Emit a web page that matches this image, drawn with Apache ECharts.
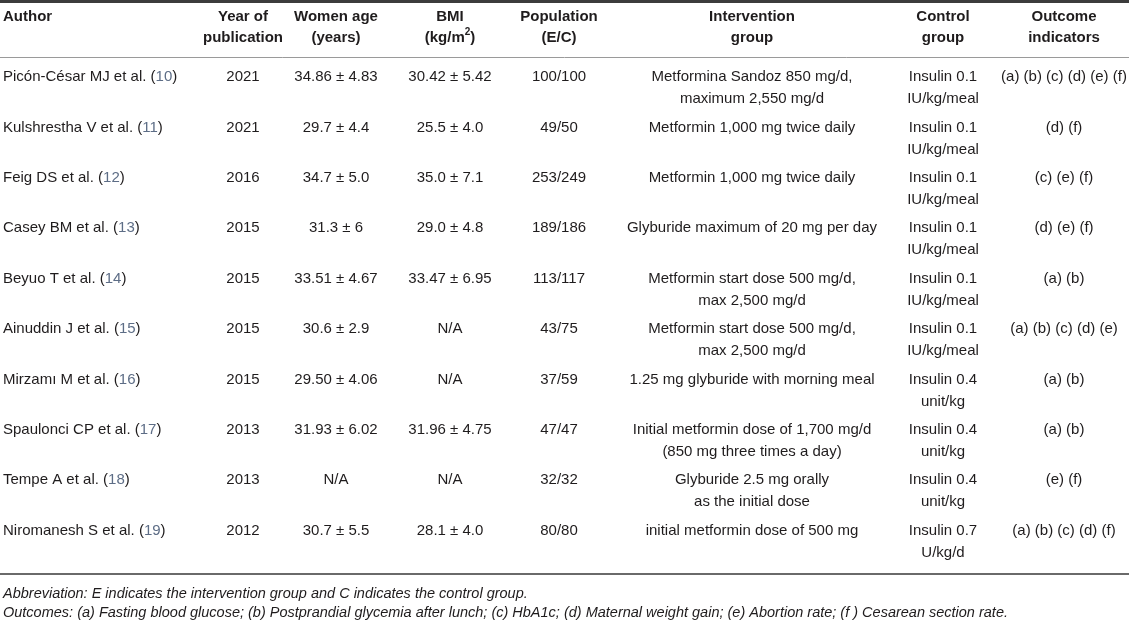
<!DOCTYPE html>
<html><head><meta charset="utf-8">
<script src="https://cdn.jsdelivr.net/npm/echarts@6/dist/echarts.min.js"></script>
<style>html,body{margin:0;padding:0;background:#fff}#c{width:1129px;height:624px}</style>
</head><body><div id="c"></div>
<script>
// ---- data ----
const headers = ["Author", "Year of\npublication", "Women age\n(years)", "BMI\n(kg/m{sup|2})", "Population\n(E/C)", "Intervention\ngroup", "Control\ngroup", "Outcome\nindicators"];
const authors = ["Picón-César MJ et al.", "Kulshrestha V et al.", "Feig DS et al.", "Casey BM et al.", "Beyuo T et al.", "Ainuddin J et al.", "Mirzamı M et al.", "Spaulonci CP et al.", "Tempe A et al.", "Niromanesh S et al."];
const refs = [10, 11, 12, 13, 14, 15, 16, 17, 18, 19];
const years = [2021, 2021, 2016, 2015, 2015, 2015, 2015, 2013, 2013, 2012];
const ages = ["34.86 ± 4.83", "29.7 ± 4.4", "34.7 ± 5.0", "31.3 ± 6", "33.51 ± 4.67", "30.6 ± 2.9", "29.50 ± 4.06", "31.93 ± 6.02", "N/A", "30.7 ± 5.5"];
const bmi = ["30.42 ± 5.42", "25.5 ± 4.0", "35.0 ± 7.1", "29.0 ± 4.8", "33.47 ± 6.95", "N/A", "N/A", "31.96 ± 4.75", "N/A", "28.1 ± 4.0"];
const population = ["100/100", "49/50", "253/249", "189/186", "113/117", "43/75", "37/59", "47/47", "32/32", "80/80"];
const intervention = [
  "Metformina Sandoz 850 mg/d,\nmaximum 2,550 mg/d",
  "Metformin 1,000 mg twice daily",
  "Metformin 1,000 mg twice daily",
  "Glyburide maximum of 20 mg per day",
  "Metformin start dose 500 mg/d,\nmax 2,500 mg/d",
  "Metformin start dose 500 mg/d,\nmax 2,500 mg/d",
  "1.25 mg glyburide with morning meal",
  "Initial metformin dose of 1,700 mg/d\n(850 mg three times a day)",
  "Glyburide 2.5 mg orally\nas the initial dose",
  "initial metformin dose of 500 mg"
];
const control = [
  "Insulin 0.1\nIU/kg/meal", "Insulin 0.1\nIU/kg/meal", "Insulin 0.1\nIU/kg/meal", "Insulin 0.1\nIU/kg/meal",
  "Insulin 0.1\nIU/kg/meal", "Insulin 0.1\nIU/kg/meal", "Insulin 0.4\nunit/kg", "Insulin 0.4\nunit/kg",
  "Insulin 0.4\nunit/kg", "Insulin 0.7\nU/kg/d"
];
const outcomes = ["(a) (b) (c) (d) (e) (f)", "(d) (f)", "(c) (e) (f)", "(d) (e) (f)", "(a) (b)", "(a) (b) (c) (d) (e)", "(a) (b)", "(a) (b)", "(e) (f)", "(a) (b) (c) (d) (f)"];
const footnotes = [
  "Abbreviation: E indicates the intervention group and C indicates the control group.",
  "Outcomes: (a) Fasting blood glucose; (b) Postprandial glycemia after lunch; (c) HbA1c; (d) Maternal weight gain; (e) Abortion rate; (f ) Cesarean section rate."
];

// ---- layout / style ----
const W = 1129, H = 624;
const COLX = [3, 243, 336, 450, 559, 752, 943, 1064];
const ALIGN = ['left', 'center', 'center', 'center', 'center', 'center', 'center', 'center'];
const FONT = "'Liberation Sans', Arial, Helvetica, sans-serif";
const FS = 15;
const TXT = '#1f1c1d';
const REF = '#5d6d86';

const bodyCells = [];
authors.forEach((a, i) => {
  const row = [a + ' ({r|' + refs[i] + '})', String(years[i]), ages[i], bmi[i], population[i], intervention[i], control[i], outcomes[i]];
  row.forEach((t, j) => bodyCells.push({ x: COLX[j], row: i, text: t, align: ALIGN[j] }));
});
const headCells = headers.map((t, j) => ({ x: COLX[j], row: 0, text: t, align: ALIGN[j] }));

function makeRender(cells, lineH, weight) {
  return function (params, api) {
    const c = cells[params.dataIndex];
    const p = api.coord([api.value(0), api.value(1)]);
    return {
      type: 'text',
      x: p[0], y: p[1] - lineH,
      style: {
        text: c.text,
        align: c.align, verticalAlign: 'top',
        fontFamily: FONT, fontSize: FS, fontWeight: weight,
        lineHeight: lineH, fill: TXT,
        rich: {
          r: { fill: REF, fontFamily: FONT, fontSize: FS, lineHeight: lineH },
          sup: { fill: TXT, fontFamily: FONT, fontSize: 10, fontWeight: weight, verticalAlign: 'top', lineHeight: 13 }
        }
      }
    };
  };
}

const chart = echarts.init(document.getElementById('c'), null, { renderer: 'canvas', width: W, height: H });
chart.setOption({
  backgroundColor: '#fff',
  animation: false,
  grid: [
    { left: 0, right: 0, top: 0, height: 55 },
    { left: 0, right: 0, top: 62.8, height: 504 }
  ],
  xAxis: [
    { type: 'value', gridIndex: 0, min: 0, max: W, show: false },
    { type: 'value', gridIndex: 1, min: 0, max: W, show: false }
  ],
  yAxis: [
    { type: 'category', gridIndex: 0, data: ['header'], show: false },
    { type: 'category', gridIndex: 1, data: authors, inverse: true, show: false }
  ],
  series: [
    {
      type: 'custom', xAxisIndex: 0, yAxisIndex: 0,
      renderItem: makeRender(headCells, 21, 'bold'),
      data: headCells.map(c => [c.x, c.row]), silent: true
    },
    {
      type: 'custom', xAxisIndex: 1, yAxisIndex: 1,
      renderItem: makeRender(bodyCells, 22, 'normal'),
      data: bodyCells.map(c => [c.x, c.row]), silent: true
    }
  ],
  graphic: [
    { type: 'line', shape: { x1: 0, y1: 1.5, x2: W, y2: 1.5 }, style: { stroke: '#3c3c3c', lineWidth: 3 } },
    { type: 'line', shape: { x1: 0, y1: 57.5, x2: W, y2: 57.5 }, style: { stroke: '#9a9a9a', lineWidth: 1 } },
    { type: 'line', shape: { x1: 0, y1: 574, x2: W, y2: 574 }, style: { stroke: '#6a6a6a', lineWidth: 2 } },
    { type: 'text', left: 3, top: 586, style: { text: footnotes[0], fontFamily: FONT, fontSize: 14.5, fontStyle: 'italic', fill: TXT } },
    { type: 'text', left: 3, top: 605, style: { text: footnotes[1], fontFamily: FONT, fontSize: 14.5, fontStyle: 'italic', fill: TXT } }
  ]
});
</script>
</body></html>
